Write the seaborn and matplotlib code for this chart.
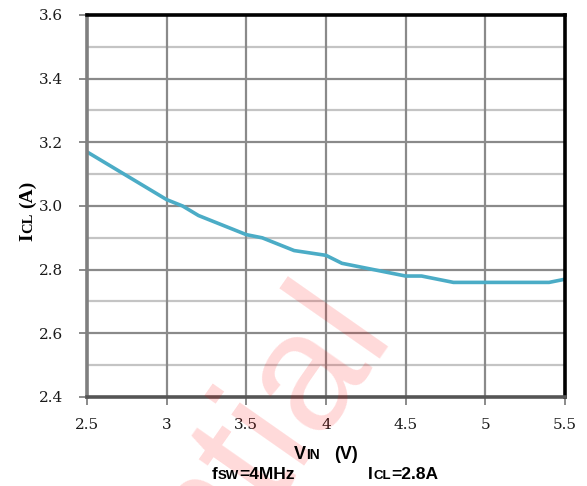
import numpy as np
import pandas as pd
import matplotlib
matplotlib.use("Agg")
import matplotlib.pyplot as plt
from matplotlib.transforms import IdentityTransform
import seaborn as sns

# ---- data ----
vin = [2.5, 3.0, 3.1, 3.2, 3.5, 3.6, 3.8, 4.0, 4.1, 4.3, 4.5, 4.6, 4.8, 5.0, 5.4, 5.5]
icl = [3.17, 3.02, 3.00, 2.97, 2.91, 2.90, 2.86, 2.845, 2.82, 2.80, 2.78, 2.78, 2.76, 2.76, 2.76, 2.77]
xticks = [2.5, 3, 3.5, 4, 4.5, 5, 5.5]
xticklabels = ["2.5", "3", "3.5", "4", "4.5", "5", "5.5"]
yticks = [2.4, 2.6, 2.8, 3.0, 3.2, 3.4, 3.6]
yticklabels = ["2.4", "2.6", "2.8", "3.0", "3.2", "3.4", "3.6"]

df = pd.DataFrame({"VIN": vin, "ICL": icl})

sns.set_theme(style="white")
W, H, DPI = 587, 486, 100
fig = plt.figure(figsize=(W / DPI, H / DPI), dpi=DPI)
ax = fig.add_axes([87 / W, 1 - 397 / H, (565 - 87) / W, (397 - 15) / H])

# grid
for yv in np.arange(2.5, 3.6, 0.2):
    ax.axhline(yv, color="#c4c4c4", lw=1.6, zorder=1)
for yv in yticks[1:-1]:
    ax.axhline(yv, color="#8a8a8a", lw=1.6, zorder=1)
for xv in xticks[1:-1]:
    ax.axvline(xv, color="#8a8a8a", lw=1.6, zorder=1)

sns.lineplot(data=df, x="VIN", y="ICL", ax=ax, color="#4bacc6", lw=2.6, zorder=3)

ax.set_xlim(2.5, 5.5)
ax.set_ylim(2.4, 3.6)
ax.set_xticks(xticks)
ax.set_xticklabels(xticklabels)
ax.set_yticks(yticks)
ax.set_yticklabels(yticklabels)
ax.set_xlabel("")
ax.set_ylabel("")
ax.tick_params(axis="both", which="major", direction="out", length=6, width=1.2,
               color="#777777", labelsize=11, labelcolor="#1a1a1a", bottom=True, left=True)
ax.tick_params(axis="y", pad=11)
ax.tick_params(axis="x", pad=9)
for lab in ax.get_xticklabels() + ax.get_yticklabels():
    lab.set_fontfamily("DejaVu Serif")

for side, col in [("top", "black"), ("right", "black"), ("left", "#7f7f7f"), ("bottom", "#555555")]:
    ax.spines[side].set_visible(True)
    ax.spines[side].set_color(col)
    ax.spines[side].set_linewidth(2.6)
    ax.spines[side].set_zorder(4)

renderer = fig.canvas.get_renderer()


def seq_text(x, y, parts, rotation=0, family="Liberation Sans", center=False):
    texts = []
    for s, size, gap in parts:
        t = fig.text(0, 0, s, fontsize=size, fontweight="bold", family=family,
                     rotation=rotation, rotation_mode="anchor", ha="left", va="baseline",
                     transform=IdentityTransform(), color="black", zorder=5)
        bb = t.get_window_extent(renderer)
        adv = bb.width if rotation == 0 else bb.height
        texts.append((t, adv, gap))
    total = sum(a + g for _, a, g in texts) - texts[-1][2]
    base = x if rotation == 0 else y
    pos = (base - total / 2) if center else base
    for t, adv, gap in texts:
        if rotation == 0:
            t.set_position((pos, y))
        else:
            t.set_position((x, pos))
        pos += adv + gap


# x label: VIN (V)
seq_text(326, H - 459, [("V", 13, 0), ("IN", 10, 14), ("(V)", 13, 0)], center=True)
# conditions
seq_text(253, H - 479, [("f", 12.5, 0.5), ("SW", 9.5, 0), ("=4MHz", 12.5, 0)], center=True)
seq_text(403, H - 479, [("I", 12.5, 1), ("CL", 9.5, 0), ("=2.8A", 12.5, 0)], center=True)
# y label: ICL (A)
seq_text(32, H - 211, [("I", 14, 0.5), ("CL", 10.5, 5), ("(A)", 14, 0)], rotation=90,
         family="Liberation Serif", center=True)

# watermark
fig.text(392 / W, 1 - 329 / H, "Confidential", fontsize=121, color="#ff0000", alpha=0.15,
         rotation=55, rotation_mode="anchor", ha="right", va="baseline",
         family="Liberation Sans", zorder=0)

fig.savefig("out.png", dpi=DPI)
